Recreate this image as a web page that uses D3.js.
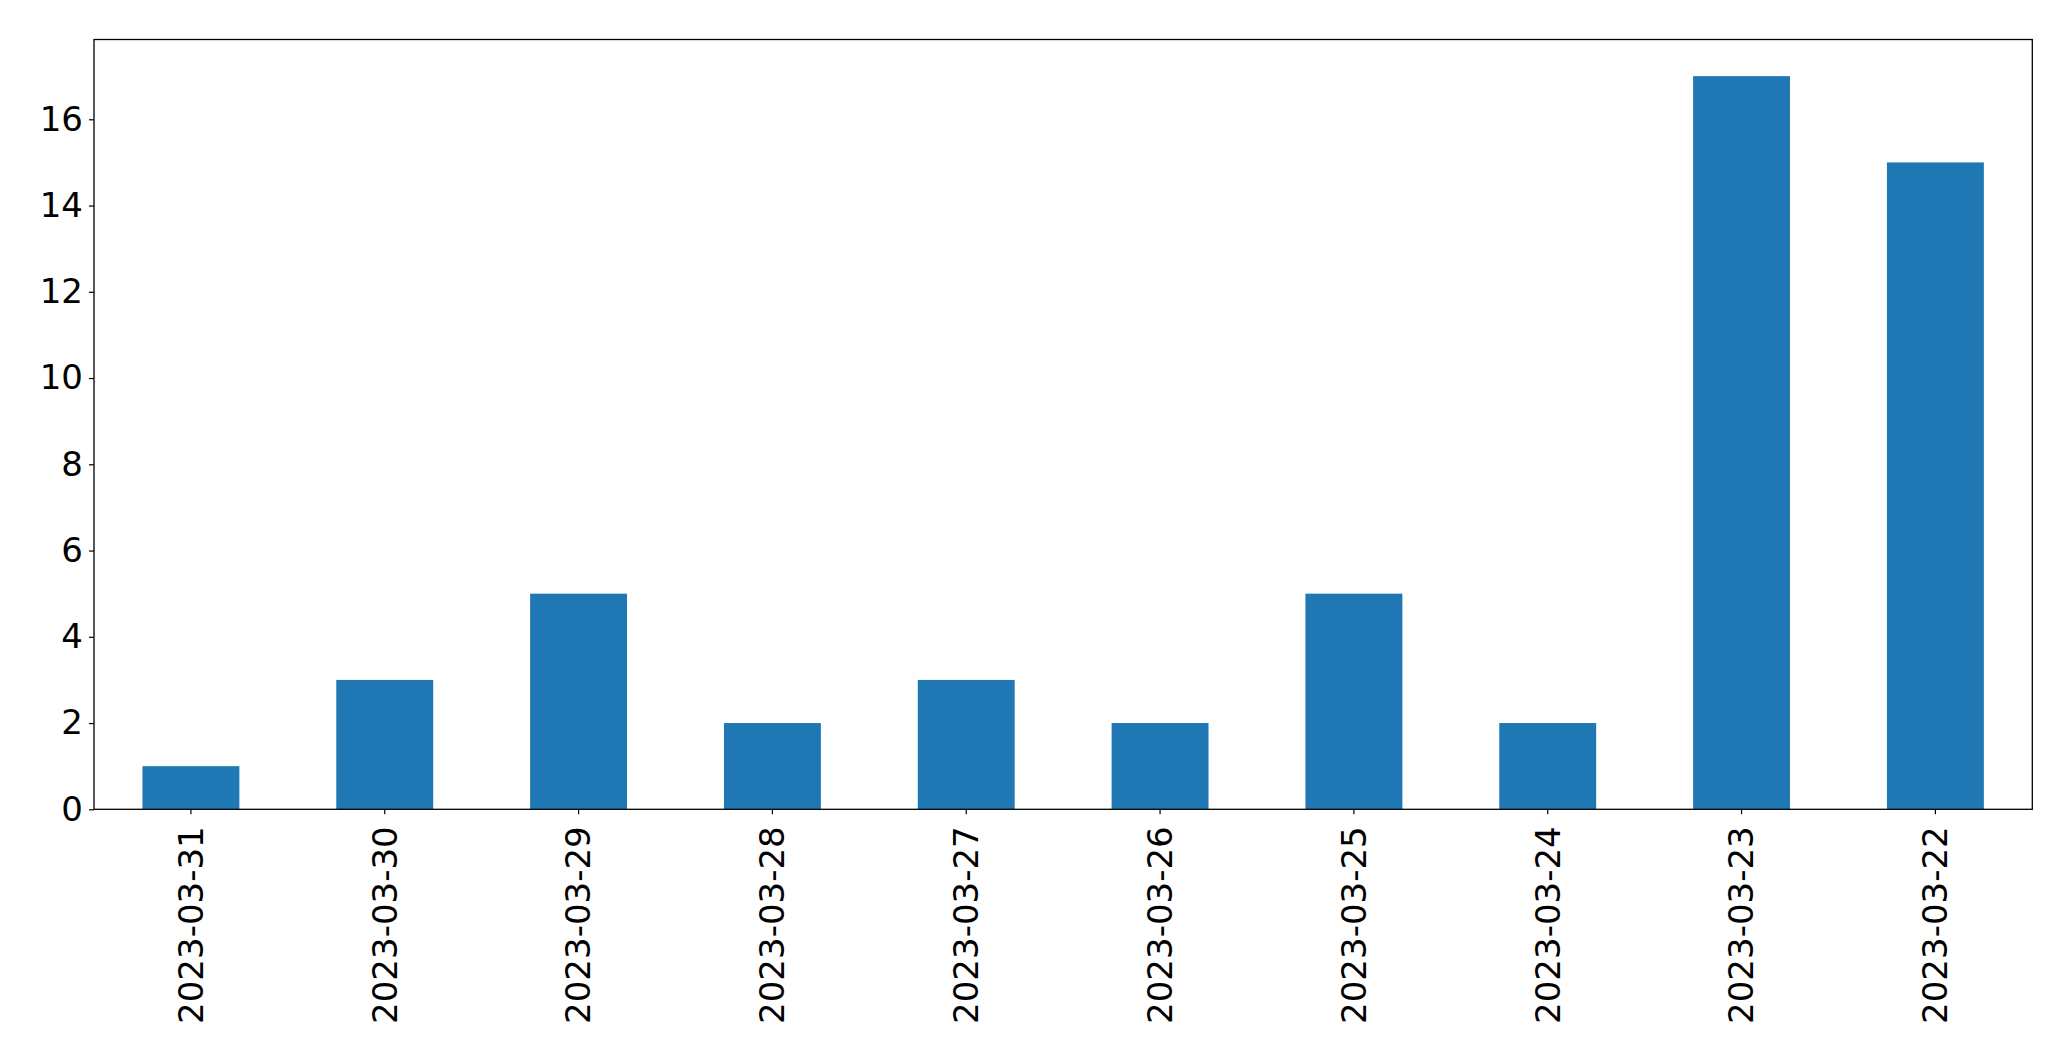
<!DOCTYPE html>
<html><head><meta charset="utf-8">
<script src="https://cdn.jsdelivr.net/npm/d3@7"></script>
<style>body{margin:0;background:#fff;} svg{display:block;}</style>
</head><body>
<script>
const categories = ["2023-03-31","2023-03-30","2023-03-29","2023-03-28","2023-03-27","2023-03-26","2023-03-25","2023-03-24","2023-03-23","2023-03-22"];
const values = [1,3,5,2,3,2,5,2,17,15];
const yTicks = [0,2,4,6,8,10,12,14,16];

const W = 2071, H = 1061;
const m = {left:94, right:2032.3, top:39.5, bottom:809.3};
const svg = d3.select("body").append("svg").attr("width",W).attr("height",H);

const x = d3.scaleBand().domain(categories).range([m.left,m.right]).paddingInner(0.5).paddingOuter(0.25);
const yMax = d3.max(values)*1.05;
const y = d3.scaleLinear().domain([0,yMax]).range([m.bottom,m.top]);

svg.append("g").selectAll("rect").data(values).join("rect")
  .attr("x",(d,i)=>x(categories[i]))
  .attr("y",d=>y(d))
  .attr("width",x.bandwidth())
  .attr("height",d=>y(0)-y(d))
  .attr("fill","#1f77b4");

const font = "'DejaVu Sans', sans-serif";
const fs = 34;

const yAxis = svg.append("g").attr("transform",`translate(${m.left},0)`)
  .call(d3.axisLeft(y).tickValues(yTicks).tickSize(5).tickPadding(6).tickFormat(d3.format("d")));
yAxis.select(".domain").remove();
yAxis.selectAll("text").attr("font-family",font).attr("font-size",fs).attr("fill","#000");
yAxis.selectAll("line").attr("stroke","#000").attr("stroke-width",1.2);

const xAxis = svg.append("g").attr("transform",`translate(0,${m.bottom})`)
  .call(d3.axisBottom(x).tickSize(5).tickPadding(0));
xAxis.select(".domain").remove();
xAxis.selectAll("line").attr("stroke","#000").attr("stroke-width",1.2);
xAxis.selectAll("text")
  .attr("font-family",font).attr("font-size",fs).attr("fill","#000")
  .attr("transform","translate(0,17) rotate(-90)")
  .attr("text-anchor","end").attr("x",0).attr("y",0).attr("dy","0.35em");

svg.append("rect").attr("x",m.left).attr("y",m.top)
  .attr("width",m.right-m.left).attr("height",m.bottom-m.top)
  .attr("fill","none").attr("stroke","#000").attr("stroke-width",1.3);
</script>
</body></html>
